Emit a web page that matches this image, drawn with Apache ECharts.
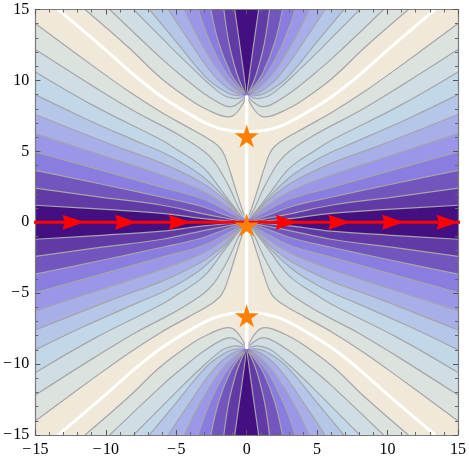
<!DOCTYPE html>
<html>
<head>
<meta charset="utf-8" />
<script src="https://cdn.jsdelivr.net/npm/echarts@6/dist/echarts.min.js"></script>
<style>
  * { margin: 0; padding: 0; }
  html, body { width: 469px; height: 459px; background: #fff; overflow: hidden; }
</style>
</head>
<body>
<div id="main" style="width:469px;height:459px;"></div>
<script>
// tick labels
const tickValues = [-15, -10, -5, 0, 5, 10, 15];
const tickLabels = ['\u2212\u200a15', '\u2212\u200a10', '\u2212\u200a5', '0', '5', '10', '15'];

// contours read off the upper left quadrant, the plot is mirrored in both axes
// contours that leave through the top edge and end at the (0, 8.94) node, outermost first
const top0 = [[-11.48,15],[-8.38,12.32],[-6.06,10.14],[-3.73,8.45],[-2.54,7.82],[-1.62,7.46],[-0.99,7.5],[-0.42,8.1],[0,8.94]];
const top1 = [[-9.72,15],[-6.06,11.55],[-4.65,10.35],[-3.03,9.08],[-1.62,8.24],[-0.99,8.17],[-0.42,8.52],[0,8.94]];
const top2 = [[-8.03,15],[-6.06,13.03],[-4.65,11.62],[-3.24,10.28],[-2.39,9.51],[-1.62,8.94],[-0.92,8.73],[-0.42,8.77],[0,8.94]];
const top3 = [[-6.9,15],[-5.14,12.89],[-2.89,10.21],[-1.69,9.3],[-0.99,8.98],[0,8.94]];
const top4 = [[-5.56,15],[-4.15,12.89],[-2.39,10.42],[-1.13,9.3],[0,8.94]];
const top5 = [[-4.44,15],[-3.38,12.89],[-1.97,10.63],[-0.85,9.44],[0,8.94]];
const top6 = [[-3.45,15],[-2.68,12.89],[-1.62,10.77],[-0.7,9.58],[0,8.94]];
const top7 = [[-2.54,15],[-1.97,12.6],[-1.13,10.49],[-0.42,9.44],[0,8.94]];
const top8 = [[-1.62,15],[-1.25,12.6],[-0.7,10.49],[-0.28,9.44],[0,8.94]];
const top9 = [[-0.85,15],[-0.42,12],[0,8.94]];

// contours that leave through the left edge and end at the origin, outermost first
const left0 = [[-15,14.01],[-10.77,10.92],[-8.38,9.23],[-6.06,7.75],[-4.15,6.69],[-2.54,5.77],[-1.76,5.07],[-1.27,3.87],[-0.85,2.54],[-0.42,1.2],[0,0]];
const left1 = [[-15,12.18],[-10.77,9.51],[-7.96,7.82],[-6.06,6.83],[-4.65,6.06],[-3.03,5],[-2.32,4.3],[-1.69,3.31],[-1.13,2.25],[-0.56,0.99],[0,0]];
const left2 = [[-15,10.6],[-10.77,8.17],[-5.99,5.77],[-4.65,4.93],[-3.45,4.15],[-2.75,3.52],[-1.69,2.11],[-0.77,0.92],[0,0]];
const left3 = [[-15,9],[-11.48,7.32],[-7.96,5.77],[-5.99,4.93],[-4.65,4.23],[-3.24,3.31],[-1.83,2.04],[-0.77,0.85],[0,0]];
const left4 = [[-15,7.6],[-9.08,5.28],[-5.99,4.15],[-3.24,2.82],[-1.69,1.69],[-0.56,0.56],[0,0]];
const left5 = [[-15,6.25],[-10.28,4.72],[-5.99,3.31],[-3.24,2.25],[-1.48,1.2],[-0.56,0.49],[0,0]];
const left6 = [[-15,4.95],[-10.28,3.66],[-5.99,2.46],[-3.24,1.69],[-1.48,0.85],[0,0]];
const left7 = [[-15,3.66],[-10.28,2.68],[-5.99,1.76],[-3.24,1.13],[-1.48,0.49],[0,0]];
const left8 = [[-15,2.4],[-10.28,1.76],[-5.99,1.2],[-3.24,0.63],[-1.48,0.28],[0,0]];
const left9 = [[-15,1.2],[-10.28,0.92],[-5.99,0.63],[-3.24,0.28],[0,0]];

// white curves
const whiteCurve = [[-13.38,15],[-10.28,12.39],[-7.96,10.35],[-6.06,8.87],[-4.15,7.68],[-2.54,6.83],[-1.34,6.48],[0,6.37]];
const whiteStem = [[0,8.94],[0,0.5]];

// red line and markers
const redLine = [[-15.1,0],[15.15,0]];
const arrowPoints = [[-12.29,0],[-8.56,0],[-4.75,0],[2.85,0],[6.58,0],[10.39,0],[14.26,0]];
const starPoints = [[0,6.08],[0,-0.2],[0,-6.6]];

const bandColors = ['#dce2de','#d0dee4','#c2d8e8','#b5c6e8','#a8aee8','#9b96e8','#8a7de0','#7355be','#623aa5','#440f80'];
const bandTops = [top0, top1, top2, top3, top4, top5, top6, top7, top8, top9];
const bandLefts = [left0, left1, left2, left3, left4, left5, left6, left7, left8, left9];

const smooth = 0.4;
const quadrants = [[1,1],[-1,1],[1,-1],[-1,-1]];

// one item per contour and quadrant, painted from the outside in
const items = [];
bandColors.forEach((c, band) => {
  quadrants.forEach(q => {
    items.push({value: [band, 0, q[0], q[1]]});
    items.push({value: [band, 1, q[0], q[1]]});
  });
});

function renderContour(params, api) {
  const band = api.value(0), isLeft = api.value(1), sx = api.value(2), sy = api.value(3);
  const line = (isLeft ? bandLefts : bandTops)[band];
  const toPx = p => api.coord([p[0] * sx, p[1] * sy]);
  const a = line[0], b = line[1];
  // run the outline past the frame so the closing edge stays outside the clip
  const before = [a[0] + (a[0] - b[0]) * 0.3, a[1] + (a[1] - b[1]) * 0.3];
  const closing = isLeft ? [before[0] - 2, 0] : [0, before[1] + 2];
  const pts = line.map(toPx);
  return {
    type: 'group',
    z2: band,
    children: [
      {
        type: 'polygon',
        shape: {points: [toPx(before)].concat(pts, [toPx(closing)]), smooth: smooth},
        style: {fill: bandColors[band], stroke: null}
      },
      {
        type: 'polyline',
        shape: {points: pts, smooth: smooth},
        style: {fill: null, stroke: '#a6a5a9', lineWidth: 1.2}
      }
    ]
  };
}

function renderWhite(params, api) {
  const pts = (api.value(0) ? whiteStem : whiteCurve).map(p => api.coord([p[0] * api.value(1), p[1] * api.value(2)]));
  return {
    type: 'polyline',
    shape: {points: pts, smooth: smooth},
    style: {fill: null, stroke: '#ffffff', lineWidth: 3}
  };
}

const whiteItems = [];
quadrants.forEach(q => {
  whiteItems.push({value: [0, q[0], q[1]]});
  whiteItems.push({value: [1, q[0], q[1]]});
});

const tickFormat = v => tickLabels[tickValues.indexOf(v)];
const axisBase = {
  type: 'value', min: -15, max: 15, interval: 5, z: 3,
  splitLine: {show: false},
  axisLine: {show: true, onZero: false, lineStyle: {color: '#7a7a7a', width: 1.2}},
  axisTick: {show: true, inside: true, length: 5, lineStyle: {color: '#555', width: 1}},
  minorTick: {show: true, splitNumber: 5, length: 3, lineStyle: {color: '#666', width: 1}},
  minorSplitLine: {show: false}
};
const labelBase = {show: true, formatter: tickFormat, color: '#000', fontFamily: 'Liberation Serif', fontSize: 16};

const option = {
  animation: false,
  backgroundColor: '#fff',
  grid: {left: 33, right: 10, top: 9.5, bottom: 24, show: true, backgroundColor: '#f0e8d8', borderWidth: 0},
  xAxis: [
    Object.assign({}, axisBase, {position: 'bottom', axisLabel: Object.assign({}, labelBase, {margin: 7})}),
    Object.assign({}, axisBase, {position: 'top', axisLabel: {show: false}})
  ],
  yAxis: [
    Object.assign({}, axisBase, {position: 'left', axisLabel: Object.assign({}, labelBase, {margin: 6})}),
    Object.assign({}, axisBase, {position: 'right', axisLabel: {show: false}})
  ],
  series: [
    {type: 'custom', renderItem: renderContour, data: items, clip: true, z: 1, silent: true},
    {type: 'custom', renderItem: renderWhite, data: whiteItems, clip: true, z: 2, silent: true},
    {type: 'line', data: redLine, clip: false, symbol: 'none', z: 5, lineStyle: {color: '#ff0000', width: 3}},
    {type: 'scatter', data: arrowPoints, clip: false, z: 6, symbol: 'path://M0 0L100 50L0 100L10 50Z', symbolSize: [22, 15], itemStyle: {color: '#ff0000', opacity: 1}},
    {type: 'scatter', data: starPoints, clip: false, z: 7, symbol: 'path://M50 0L61 35L98 35L68 57L79 91L50 70L21 91L32 57L2 35L39 35Z', symbolSize: [24, 23], itemStyle: {color: '#ff8000', opacity: 1}}
  ]
};

const myChart = echarts.init(document.getElementById('main'));
myChart.setOption(option);
</script>
</body>
</html>
